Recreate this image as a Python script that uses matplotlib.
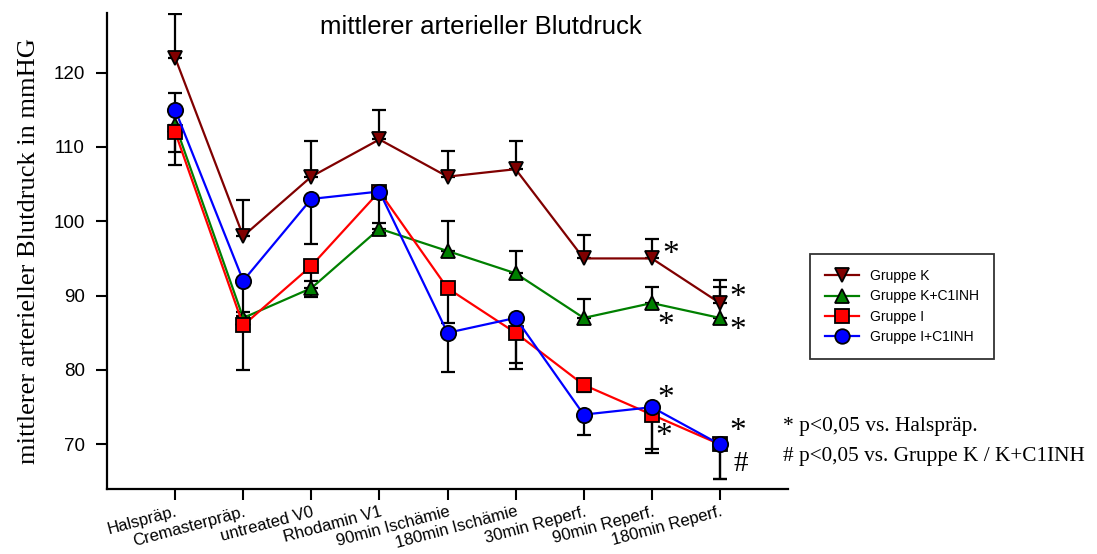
import matplotlib
matplotlib.use('Agg')
import matplotlib.pyplot as plt
import numpy as np

# categories and values
labels = ['Halspräp.', 'Cremasterpräp.', 'untreated V0', 'Rhodamin V1',
          '90min Ischämie', '180min Ischämie', '30min Reperf.',
          '90min Reperf.', '180min Reperf.']

grp_k = [122, 98, 106, 111, 106, 107, 95, 95, 89]
grp_k_err = [5.8, 4.8, 4.8, 4.0, 3.4, 3.8, 3.2, 2.6, 3.1]

grp_kc = [113, 87, 91, 99, 96, 93, 87, 89, 87]
grp_kc_err = [4.3, 0.8, 1.0, 0.8, 4.0, 3.0, 2.5, 2.2, 4.2]

grp_i = [112, 86, 94, 104, 91, 85, 78, 74, 70]
grp_i_err = [4.4, 6.0, 4.2, 5.6, 4.7, 4.8, 1.0, 5.2, 4.6]

grp_ic = [115, 92, 103, 104, 85, 87, 74, 75, 70]
grp_ic_err = [5.7, 4.7, 6.1, 0.5, 5.3, 6.1, 2.8, 5.6, 4.7]

# significance marks (x position in category units, y in mmHg, text)
marks = [(7.28, 95.5, '*'), (8.26, 89.7, '*'), (7.2, 86.0, '*'),
         (8.26, 85.3, '*'), (7.2, 76.2, '*'), (7.18, 71.0, '*'),
         (8.26, 71.7, '*'), (8.3, 67.3, '#')]

sans = ['Liberation Sans', 'DejaVu Sans']
serif = ['Liberation Serif', 'DejaVu Serif']

fig = plt.figure(figsize=(10.97, 5.54), dpi=100)
ax = fig.add_axes([107/1097, 1-489/554, (788-107)/1097, (489-13)/554])

x = np.arange(len(labels))
series = [
    (grp_k, grp_k_err, 'v', '#800000', 'Gruppe K', 1),
    (grp_kc, grp_kc_err, '^', '#008000', 'Gruppe K+C1INH', 1),
    (grp_i, grp_i_err, 's', '#ff0000', 'Gruppe I', -1),
    (grp_ic, grp_ic_err, 'o', '#0000ff', 'Gruppe I+C1INH', -1),
]

ms = {'v': 10, '^': 10, 's': 10.5, 'o': 11}
# error bars first (black, one-sided)
for y, e, m, c, lab, d in series:
    y = np.array(y, dtype=float)
    e = np.array(e, dtype=float)
    if d > 0:
        yerr = [np.zeros_like(e), e]
    else:
        yerr = [e, np.zeros_like(e)]
    ax.errorbar(x, y, yerr=yerr, fmt='none', ecolor='black', elinewidth=1.6,
                capsize=5, capthick=1.6, zorder=2)

for y, e, m, c, lab, d in series:
    ax.plot(x, y, color=c, lw=1.6, marker=m, ms=ms[m], mfc=c, mec='black',
            mew=1.3, label=lab, zorder=3)

for mx, my, t in marks:
    ax.text(mx, my, t, fontsize=24 if t == '*' else 21, family=serif,
            ha='center', va='center')

ax.set_xlim(-1, 9)
ax.set_ylim(64, 128)
ax.set_yticks([70, 80, 90, 100, 110, 120])
ax.set_xticks(x)
ax.set_xticklabels(labels, rotation=15, ha='right', rotation_mode='anchor',
                   family=sans, fontsize=12)
for t in ax.get_yticklabels():
    t.set_family(sans)
    t.set_fontsize(13.5)
ax.tick_params(axis='both', direction='out', length=8, width=1.5)
ax.tick_params(axis='y', pad=8)
ax.tick_params(axis='x', pad=3)
for s in ['top', 'right']:
    ax.spines[s].set_visible(False)
for s in ['left', 'bottom']:
    ax.spines[s].set_linewidth(1.6)

ax.set_ylabel('mittlerer arterieller Blutdruck in mmHG', family=serif,
              fontsize=19, labelpad=10)
fig.text(481/1097, 1-27/554, 'mittlerer arterieller Blutdruck', family=sans,
         fontsize=18.5, ha='center', va='center')

leg = fig.legend(loc='upper left', bbox_to_anchor=(803/1097, 1-247/554),
                 prop={'family': sans, 'size': 10}, frameon=True,
                 fancybox=False, edgecolor='black', handlelength=2.4,
                 borderpad=1.1, labelspacing=0.45, markerscale=0.95)
leg.get_frame().set_linewidth(1.3)

fig.text(783/1097, 1-427/554, '* p<0,05 vs. Halspräp.', family=serif,
         fontsize=15.5, va='center')
fig.text(783/1097, 1-457/554, '# p<0,05 vs. Gruppe K / K+C1INH', family=serif,
         fontsize=15.3, va='center')

fig.savefig('out.png', dpi=100)
